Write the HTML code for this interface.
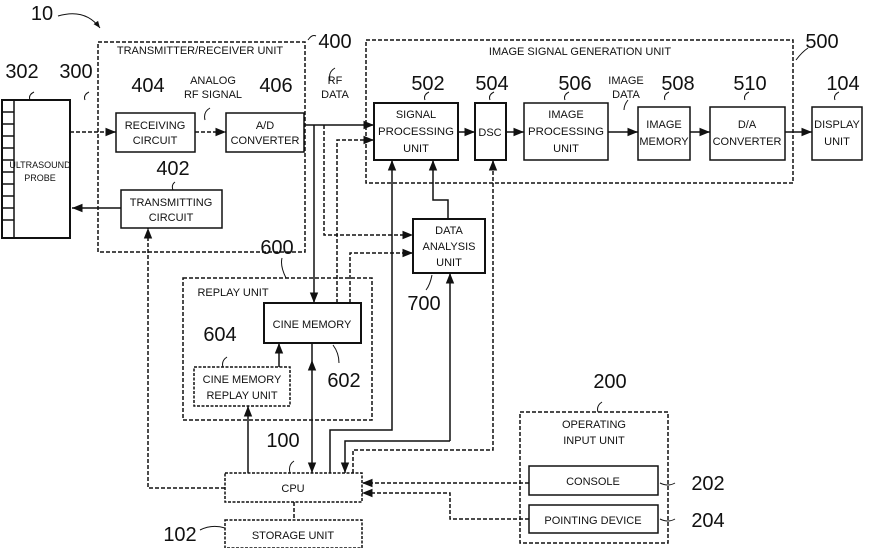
<!DOCTYPE html><html><head><style>body{margin:0;background:#fff}svg{display:block}
text{font-family:"Liberation Sans",sans-serif;fill:#111}
.s{font-size:11px;text-anchor:middle}.n{font-size:20px;text-anchor:middle}</style></head><body>
<svg width="870" height="548" viewBox="0 0 870 548" xmlns="http://www.w3.org/2000/svg">
<defs><marker id="a" viewBox="0 0 10 10" refX="10" refY="5" markerWidth="7" markerHeight="7" orient="auto-start-reverse"><path d="M0,1L10,5L0,9z" fill="#111"/></marker></defs>
<g fill="none" stroke="#111" stroke-width="1.5">
<g stroke-dasharray="4,2">
<rect x="98" y="42" width="207" height="210"/>
<rect x="366" y="40" width="427" height="143"/>
<rect x="183" y="278" width="189" height="142"/>
<rect x="520" y="412" width="148" height="131"/>
</g>
<rect x="2" y="100" width="68" height="138" stroke-width="2"/>
<path d="M2,112h12M2,124h12M2,136h12M2,148h12M2,160h12M2,172h12M2,184h12M2,196h12M2,208h12M2,220h12M14,100v138"/>
<rect x="116" y="113" width="79" height="39"/>
<rect x="226" y="113" width="78" height="39"/>
<rect x="121" y="190" width="101" height="38"/>
<rect x="374" y="103" width="84" height="57" stroke-width="2"/>
<rect x="475" y="103" width="31" height="57" stroke-width="2"/>
<rect x="524" y="103" width="84" height="57"/>
<rect x="638" y="107" width="52" height="53"/>
<rect x="710" y="107" width="75" height="53"/>
<rect x="812" y="107" width="50" height="53"/>
<rect x="413" y="219" width="72" height="54" stroke-width="2"/>
<rect x="264" y="303" width="97" height="40" stroke-width="2"/>
<rect x="194" y="367" width="96" height="39" stroke-dasharray="3,1.5"/>
<rect x="225" y="473" width="137" height="29" stroke-dasharray="3,1.5"/>
<rect x="225" y="520" width="137" height="28" stroke-dasharray="3,1.5"/>
<rect x="529" y="466" width="129" height="29"/>
<rect x="529" y="505" width="129" height="28"/>
<g marker-end="url(#a)">
<path d="M70,132H116" stroke-dasharray="4,2"/>
<path d="M195,132H226" stroke-dasharray="4,2"/>
<path d="M121,208H72"/>
<path d="M304,125H374"/>
<path d="M458,132H475"/><path d="M506,132H524"/><path d="M608,132H638"/><path d="M690,132H710"/><path d="M785,132H812"/>
<path d="M337,303V140H374" stroke-dasharray="4,2"/>
<path d="M314,125V303"/>
<path d="M324,125V235H413" stroke-dasharray="4,2"/>
<path d="M350,303V253H413" stroke-dasharray="4,2"/>
<path d="M448,219V200H433V160"/>
<path d="M330,473V430H392V160"/>
<path d="M353,473V450H493V160" stroke-dasharray="4,2"/>
<path d="M450,441V273"/>
<path d="M450,441H345V473"/>
<path d="M312,360V473" marker-start="url(#a)"/>
<path d="M279,367V343"/>
<path d="M248,473V406"/>
<path d="M225,488H148V228" stroke-dasharray="4,2"/>
<path d="M529,483H362" stroke-dasharray="4,2"/>
<path d="M529,519H450V493H362" stroke-dasharray="4,2"/>
</g>
<path d="M312,343V360"/>
<path d="M294,502V520" stroke-dasharray="4,2"/>
<path d="M58,16Q85,8 100,28" marker-end="url(#a)" stroke-width="1"/>
<path stroke-width="1" d="M205,120q-2,-8 5,-12M330,80q-2,-8 5,-12M308,40q4,-6 8,-4M425,100q-2,-5 4,-8M490,100q-2,-5 4,-8M565,100q-2,-5 4,-8M624,110q0,-5 4,-10M665,100q-2,-5 4,-8M745,100q-2,-5 4,-8M835,100q-2,-5 4,-8M796,60q6,-8 12,-12M173,190q-2,-5 2,-8M85,100q-2,-5 4,-8M30,100q-2,-5 4,-8M432,275q-2,10 -6,15M333,345q6,8 6,18M223,367q-2,-6 4,-10M282,258q-2,8 4,20M290,473q-2,-8 4,-12M200,530q12,-6 25,-2M660,483q8,4 15,0M660,519q8,4 15,0M598,412q-2,-6 4,-10"/>
</g>
<text class="n" x="42" y="20">10</text>
<text class="n" x="22" y="78">302</text><text class="n" x="76" y="78">300</text>
<text class="n" x="148" y="92">404</text><text class="n" x="276" y="92">406</text>
<text class="n" x="335" y="48">400</text><text class="n" x="173" y="175">402</text>
<text class="n" x="428" y="90">502</text><text class="n" x="492" y="90">504</text>
<text class="n" x="575" y="90">506</text><text class="n" x="678" y="90">508</text>
<text class="n" x="750" y="90">510</text><text class="n" x="843" y="90">104</text>
<text class="n" x="822" y="48">500</text><text class="n" x="277" y="254">600</text>
<text class="n" x="424" y="310">700</text><text class="n" x="220" y="341">604</text>
<text class="n" x="344" y="387">602</text><text class="n" x="283" y="447">100</text>
<text class="n" x="180" y="541">102</text><text class="n" x="610" y="388">200</text>
<text class="n" x="708" y="490">202</text><text class="n" x="708" y="527">204</text>
<text class="s" x="200" y="54">TRANSMITTER/RECEIVER UNIT</text>
<text class="s" x="580" y="55">IMAGE SIGNAL GENERATION UNIT</text>
<text class="s" x="213" y="84">ANALOG</text><text class="s" x="213" y="98">RF SIGNAL</text>
<text class="s" x="335" y="84">RF</text><text class="s" x="335" y="98">DATA</text>
<text class="s" x="626" y="84">IMAGE</text><text class="s" x="626" y="98">DATA</text>
<text class="s" x="40" y="168" style="font-size:9px">ULTRASOUND</text><text class="s" x="40" y="181" style="font-size:9px">PROBE</text>
<text class="s" x="155" y="129">RECEIVING</text><text class="s" x="155" y="144">CIRCUIT</text>
<text class="s" x="265" y="129">A/D</text><text class="s" x="265" y="144">CONVERTER</text>
<text class="s" x="171" y="206">TRANSMITTING</text><text class="s" x="171" y="221">CIRCUIT</text>
<text class="s" x="416" y="118">SIGNAL</text><text class="s" x="416" y="135" textLength="76" lengthAdjust="spacingAndGlyphs">PROCESSING</text><text class="s" x="416" y="152">UNIT</text>
<text class="s" x="490" y="136">DSC</text>
<text class="s" x="566" y="118">IMAGE</text><text class="s" x="566" y="135" textLength="76" lengthAdjust="spacingAndGlyphs">PROCESSING</text><text class="s" x="566" y="152">UNIT</text>
<text class="s" x="664" y="128">IMAGE</text><text class="s" x="664" y="145">MEMORY</text>
<text class="s" x="747" y="128">D/A</text><text class="s" x="747" y="145">CONVERTER</text>
<text class="s" x="837" y="128">DISPLAY</text><text class="s" x="837" y="145">UNIT</text>
<text class="s" x="449" y="234">DATA</text><text class="s" x="449" y="250">ANALYSIS</text><text class="s" x="449" y="266">UNIT</text>
<text class="s" x="233" y="296">REPLAY UNIT</text>
<text class="s" x="312" y="328">CINE MEMORY</text>
<text class="s" x="242" y="383">CINE MEMORY</text><text class="s" x="242" y="399">REPLAY UNIT</text>
<text class="s" x="293" y="492">CPU</text>
<text class="s" x="293" y="539">STORAGE UNIT</text>
<text class="s" x="594" y="428">OPERATING</text><text class="s" x="594" y="444">INPUT UNIT</text>
<text class="s" x="593" y="485">CONSOLE</text>
<text class="s" x="593" y="524">POINTING DEVICE</text>
</svg></body></html>
